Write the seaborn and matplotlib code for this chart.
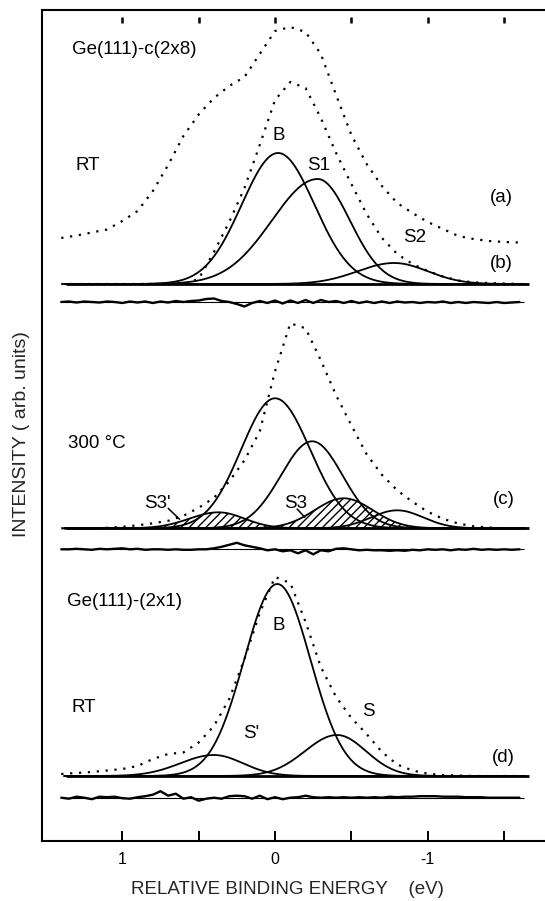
import numpy as np
import seaborn as sns
import matplotlib.pyplot as plt

# energy grids (eV)
energy = np.round(np.arange(1.4, -1.61, -0.1), 2)
energy_res = np.round(np.arange(1.4, -1.61, -0.05), 2)
energy_fit = np.linspace(1.38, -1.64, 400)

# measured spectra (dotted), heights above own baseline
spec_a = [46, 48.5, 51.5, 54.5, 63, 73, 93, 119, 148, 169.5, 186, 198, 207, 230, 253, 257,
          252, 230, 189, 149, 120, 98, 81, 71, 62, 55, 48, 45, 43, 42, 41.5]
spec_b = [0, 0, 0, 0, 0, 0, 0, 0, 0, 5, 32, 62, 96, 139, 184, 202, 196, 166, 131, 100, 70,
          46, 30, 20, 13, 7.5, 3.5, 1.7, 1, 0.5, 0]
spec_c = [0, 0, 0, 0.5, 1.5, 3, 5, 7.5, 12.5, 20.5, 30.5, 47, 68, 97, 157, 205, 200, 168,
          133, 103, 74, 53.5, 38, 26.5, 16.5, 9.5, 4.8, 2, 0.8, 0, 0]
spec_d = [2, 3, 4, 5.5, 7, 10, 17, 22, 23.5, 33.5, 50, 77, 117, 163, 199, 193, 154, 109, 79,
          58, 42, 24, 11.5, 5.5, 2.3, 1, 0.5, 0, 0, 0, 0]

# fit residuals
resid_b = [0, 0.5, -0.5, 0.5, 0, -0.5, 0.5, 0, -1, 0.5, -0.5, 0.5, -1, 0.5, -0.5, 1, 0, 1,
           1.5, 3, 3.5, 1, 0, -2, -4.5, -1, 1, -1, 1.5, -1.5, 1.5, -1, 2, -1, 2, 0, 1, -1, 1,
           -1, 0.5, -1, 0.5, -1, 0.5, -0.5, 0, -1, 0, -0.5, 0.5, -1, 0, -1, 0, -0.5, -1, 0,
           -1, -0.5, 0]
resid_c = [0, 0, 0.5, 0, -0.5, 0.5, 0, 0.5, 1, 0, 0.5, -0.5, 0, 0, -0.5, 0, -0.5, -0.5, 0,
           0, 1, 2.5, 4.5, 6.5, 4, 2.5, 1, -1, 0, -2, -1, -4, -1, -5, -1, -2, 0.5, 1, 0, -1,
           -0.5, -1, -1, -1.5, -1, -1.5, -0.5, -1, 0, -0.5, 0, -1, 0, -0.5, 0.5, -0.5, 0,
           -0.5, 0, -0.5, 0]
resid_d = [0, -1, 1, 0, -1.5, 1, 0.5, 1, -0.5, -1, 0.5, 1.5, 3, 6.5, 2, 4, -1, 0.5, -3, -1,
           0, -1, 1.5, 2, 1.5, -1, 2, -1.5, 0.5, -1.5, 0, 0.5, 2, 0.5, 0, 0.5, 0, 0.5, 0, 0.5,
           0, 0.5, 0, 1, 0.5, 1, 1, 1.5, 1.5, 1.5, 1, 1, 1, 0.5, 0.5, 0.5, 0, 0, 0, 0, 0]

# fitted components: (centre eV, height, width on high-BE side, width on low-BE side)
comp_b = [(-0.02, 131, 0.238, 0.238), (-0.28, 105, 0.30, 0.21), (-0.78, 21, 0.24, 0.22)]
comp_c = [(0.0, 130, 0.222, 0.23), (-0.243, 87, 0.205, 0.20), (-0.80, 18, 0.17, 0.17)]
hatched_c = [(0.37, 16, 0.19, 0.17), (-0.45, 30, 0.19, 0.19)]
comp_d = [(-0.015, 192, 0.217, 0.217), (0.40, 21, 0.22, 0.19), (-0.406, 41, 0.21, 0.19)]

# vertical offsets of the stacked spectra
base_b, base_c, base_d = 557, 312.7, 65
zero_b, zero_c, zero_d = 539, 291.7, 43.3


def peak(c, h, wl, wr):
    w = np.where(energy_fit > c, wl, wr)
    return h * np.exp(-(energy_fit - c) ** 2 / (2 * w ** 2))


sns.set_theme(style="white")
plt.rcParams['font.family'] = ['Liberation Sans', 'DejaVu Sans']
plt.rcParams['hatch.linewidth'] = 1.0

fig = plt.figure(figsize=(5.45, 9.01), dpi=100)
ax = fig.add_axes([42 / 545, 60 / 901, 503 / 545, 831 / 901])
dots = (0, (1, 3))

sns.lineplot(x=energy, y=base_b + np.array(spec_a), ax=ax, color='black', lw=1.6,
             linestyle=dots, sort=False, estimator=None)
for spec, base in [(spec_b, base_b), (spec_c, base_c), (spec_d, base_d)]:
    sns.lineplot(x=energy, y=base + np.array(spec), ax=ax, color='black', lw=1.6,
                 linestyle=dots, sort=False, estimator=None)

for comps, base in [(comp_b, base_b), (comp_c, base_c), (comp_d, base_d)]:
    for p in comps:
        sns.lineplot(x=energy_fit, y=base + peak(*p), ax=ax, color='black', lw=1.3,
                     sort=False, estimator=None)
for p in hatched_c:
    y = base_c + peak(*p)
    ax.fill_between(energy_fit, base_c, y, facecolor='none', edgecolor='black',
                    hatch='////', lw=0)
    sns.lineplot(x=energy_fit, y=y, ax=ax, color='black', lw=1.3, sort=False, estimator=None)

for base in [base_b, base_c, base_d]:
    ax.hlines(base, 1.37, -1.66, color='black', lw=2.0)
for res, zero in [(resid_b, zero_b), (resid_c, zero_c), (resid_d, zero_d)]:
    ax.hlines(zero, 1.38, -1.63, color='black', lw=0.8)
    sns.lineplot(x=energy_res, y=zero + np.array(res), ax=ax, color='black', lw=1.7,
                 sort=False, estimator=None)

# leader lines for S3' and S3
ax.plot([0.70, 0.625], [332.7, 321.7], color='black', lw=1.1)
ax.plot([-0.145, -0.195], [332, 323.7], color='black', lw=1.1)

fs = 13.5
labels = [
    (1.331, 791, "Ge(111)-c(2x8)", 'left'), (1.309, 676, "RT", 'left'),
    (-0.026, 706, "B", 'center'), (-0.287, 676, "S1", 'center'),
    (-0.917, 604, "S2", 'center'), (-1.481, 643, "(a)", 'center'),
    (-1.481, 578, "(b)", 'center'), (1.353, 398, "300 °C", 'left'),
    (0.772, 338, "S3'", 'center'), (-0.135, 338, "S3", 'center'),
    (-1.496, 341, "(c)", 'center'), (1.364, 239, "Ge(111)-(2x1)", 'left'),
    (-0.026, 216, "B", 'center'), (1.331, 134, "RT", 'left'),
    (0.158, 108, "S'", 'center'), (-0.612, 129, "S", 'center'),
    (-1.496, 83, "(d)", 'center'),
]
for x, y, t, ha in labels:
    ax.text(x, y, t, ha=ha, va='center', fontsize=fs, color='black')

ax.set_xlim(1.526, -1.768)
ax.set_ylim(0, 831)
ax.set_xticks([1, 0.5, 0, -0.5, -1, -1.5])
ax.set_xticklabels(["1", "", "0", "", "-1", ""])
ax.set_yticks([])
ax.tick_params(axis='x', direction='in', length=7.5, width=1.4, pad=8, labelsize=11.5,
               colors='black', bottom=True)
# small tick marks under the top frame
ax.plot([1, 0.5, 0, -0.5, -1, -1.5], [821.5] * 6, ls='', marker='|', ms=4, mew=1.8,
        color='black')

for side in ['left', 'bottom', 'top']:
    ax.spines[side].set_color('black')
    ax.spines[side].set_linewidth(1.5)
ax.spines['right'].set_visible(False)

fig.text(21.5 / 545, 1 - 434 / 901, "INTENSITY ( arb. units)", rotation=90,
         ha='center', va='center', fontsize=14)
fig.text(287.4 / 545, 1 - 890 / 901, "RELATIVE BINDING ENERGY    (eV)",
         ha='center', va='center', fontsize=fs)

fig.savefig("out.png", dpi=100, facecolor='white')
